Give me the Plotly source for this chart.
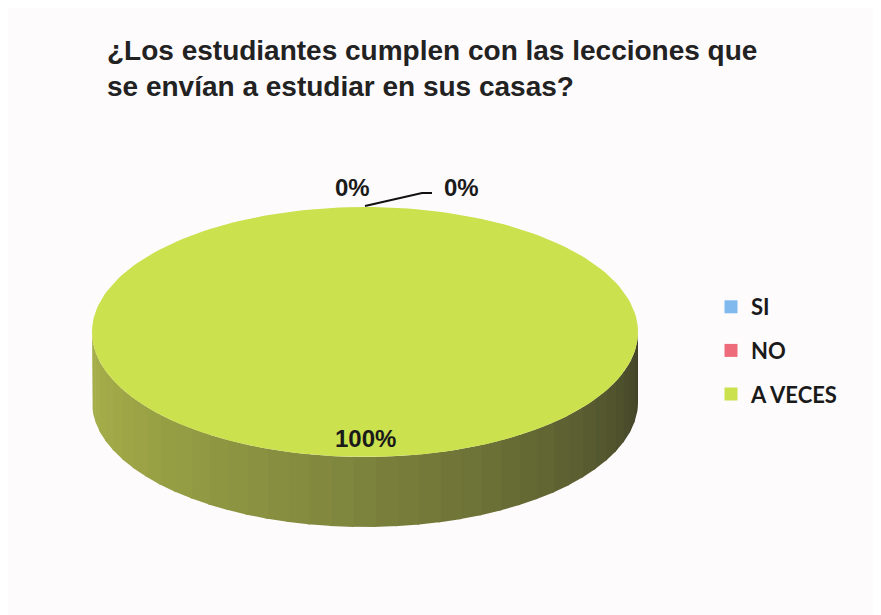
import numpy as np
import plotly.graph_objects as go

# Survey answers (3D pie in the original)
categories = ["SI", "NO", "A VECES"]
values = [0, 0, 100]
top_colors = ["#7fb9ee", "#ee6b7b", "#cbe14d"]
side_light = ["#5f8fc0", "#c05060", "#a7b04a"]
side_dark = ["#2f4660", "#5a2830", "#3e4027"]

# Pie geometry in pixel space (page body adds an 8px offset)
CX, CY = 357, 324
RX, RY = 273, 125
DEPTH = 70

total = sum(values)
fracs = [v / total for v in values]
pcts = [f"{round(f * 100)}%" for f in fracs]

fig = go.Figure()


def pt(theta, dy=0.0):
    # theta clockwise from 12 o'clock
    return CX + RX * np.sin(theta), CY - RY * np.cos(theta) + dy


def mix(c1, c2, t):
    a = [int(c1[i:i + 2], 16) for i in (1, 3, 5)]
    b = [int(c2[i:i + 2], 16) for i in (1, 3, 5)]
    return "rgb(%d,%d,%d)" % tuple(round(a[k] + (b[k] - a[k]) * t) for k in range(3))


starts = np.concatenate([[0], np.cumsum(fracs)[:-1]]) * 2 * np.pi
ends = np.cumsum(fracs) * 2 * np.pi

# side walls (front half only), drawn in shaded bands
for i, (s, e) in enumerate(zip(starts, ends)):
    lo, hi = max(s, np.pi / 2), min(e, 3 * np.pi / 2)
    if hi <= lo:
        continue
    edges = np.linspace(lo, hi, 40)
    for k in range(len(edges) - 1):
        th = np.linspace(edges[k], edges[k + 1] + 0.01, 6)
        xt, yt = pt(th)
        xb, yb = pt(th[::-1], DEPTH)
        mid = (edges[k] + edges[k + 1]) / 2
        t = (3 * np.pi / 2 - mid) / np.pi  # 0 at left, 1 at right
        col = mix(side_light[i], side_dark[i], t ** 1.3)
        fig.add_trace(go.Scatter(
            x=np.concatenate([xt, xb]), y=np.concatenate([yt, yb]),
            fill="toself", fillcolor=col, mode="lines",
            line=dict(width=0, color=col), showlegend=False, hoverinfo="skip"))

# top faces
for i, (s, e) in enumerate(zip(starts, ends)):
    if e <= s:
        continue
    th = np.linspace(s, e, 200)
    xa, ya = pt(th)
    fig.add_trace(go.Scatter(
        x=np.concatenate([[CX], xa, [CX]]), y=np.concatenate([[CY], ya, [CY]]),
        fill="toself", fillcolor=top_colors[i], mode="lines",
        line=dict(width=0, color=top_colors[i]),
        name=categories[i], showlegend=False,
        hovertemplate=f"{categories[i]}: {pcts[i]}<extra></extra>"))

# legend entries
for i, cat in enumerate(categories):
    fig.add_trace(go.Scatter(
        x=[None], y=[None], mode="markers", name=cat, legendgroup=cat,
        marker=dict(symbol="square", size=13, color=top_colors[i])))

# data labels
for i, (s, e) in enumerate(zip(starts, ends)):
    mid = (s + e) / 2
    if values[i] == 0:
        ax, ay = pt(mid)
        lx = ax - 13 if i == 0 else ax + 96
        fig.add_annotation(x=lx, y=ay - 20, text="<b>" + pcts[i] + "</b>", showarrow=False,
                           font=dict(size=24, color="#1a1a1a"))
        if i == 1:
            fig.add_trace(go.Scatter(
                x=[ax, ax + 57, ax + 67], y=[ay - 1, ay - 14, ay - 14],
                mode="lines", line=dict(color="#111111", width=2),
                showlegend=False, hoverinfo="skip"))
    else:
        lx, ly = CX + 0.0 * RX * np.sin(mid), CY + 0.85 * RY
        fig.add_annotation(x=lx, y=ly, text="<b>" + pcts[i] + "</b>", showarrow=False,
                           font=dict(size=24, color="#1a1a1a"))

fig.update_layout(
    width=881, height=615,
    margin=dict(l=0, r=0, t=0, b=0),
    paper_bgcolor="#fefbfd", plot_bgcolor="#fefbfd",
    font=dict(family="Liberation Sans, Arial", color="#1a1a1a"),
    title=dict(
        text="<b>¿Los estudiantes cumplen con las lecciones que<br>se envían a estudiar en sus casas?</b>",
        x=99 / 881, xanchor="left", y=1 - 52 / 615, yanchor="top",
        font=dict(size=28, color="#222222")),
    xaxis=dict(range=[0, 881], visible=False, fixedrange=True),
    yaxis=dict(range=[615, 0], visible=False, fixedrange=True),
    legend=dict(x=703 / 881, xanchor="left", y=1 - 278 / 615, yanchor="top",
                font=dict(family="Lato, Carlito, Calibri", size=22, color="#1a1a1a", weight="bold"),
                tracegroupgap=12, bgcolor="rgba(0,0,0,0)"),
    showlegend=True,
)

fig.write_html("out.html")
